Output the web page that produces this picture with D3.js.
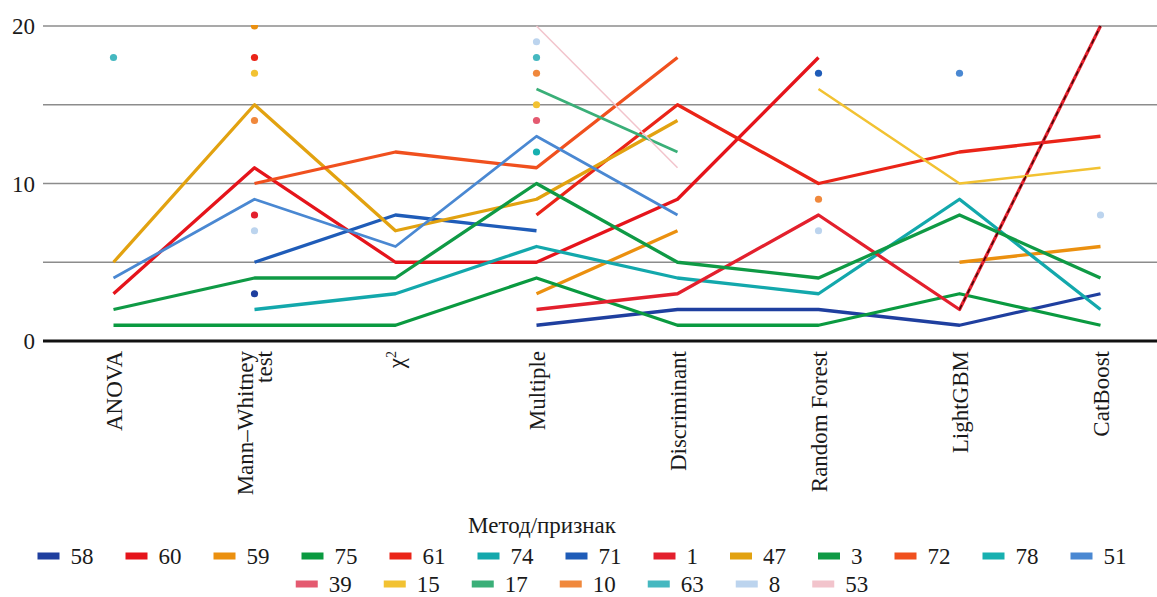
<!DOCTYPE html>
<html>
<head>
<meta charset="utf-8">
<script src="https://cdn.jsdelivr.net/npm/d3@7"></script>
<style>
  body { margin: 0; background: #fff; }
</style>
</head>
<body>
<div id="chart"></div>
<script>

      // categories on the x axis
      var categories = ["ANOVA", "Mann–Whitney test", "χ2", "Multiple", "Discriminant",
                        "Random Forest", "LightGBM", "CatBoost"];

      // series (legend order) and their colours
      var seriesNames = ["58", "60", "59", "75", "61", "74", "71", "1", "47", "3",
                         "72", "78", "51", "39", "15", "17", "10", "63", "8", "53"];
      var seriesColors = ["#1f3f9f", "#e5141b", "#eb900f", "#0a9a40", "#ea2418", "#13a8ac",
                          "#1f5cb8", "#e3202d", "#e2a210", "#0f9a45", "#f0501e", "#17b0b0",
                          "#4a88d2", "#e45a70", "#f2c232", "#3aaf78", "#f0883c", "#45b8c0",
                          "#bcd4ee", "#f2c4cc"];
      var seriesWidths = [3.3, 3.3, 3.3, 3.3, 3.3, 3.3, 3.3, 3.3, 3.3, 3.3,
                          3.3, 3.3, 2.8, 2.5, 2.5, 2.8, 2.5, 2.5, 2.5, 1.5];

      // values per series, one per category (null = no value)
      var seriesValues = [
        [null, 3, null, 1, 2, 2, 1, 3],          // 58
        [3, 11, 5, 5, 9, 18, null, null],        // 60
        [null, 20, null, 3, 7, null, 5, 6],      // 59
        [1, 1, 1, 4, 1, 1, 3, 1],                // 75
        [null, 18, null, 8, 15, 10, 12, 13],     // 61
        [null, 2, 3, 6, 4, 3, 9, 2],             // 74
        [null, 5, 8, 7, null, 17, null, null],   // 71
        [null, 8, null, 2, 3, 8, 2, 20],         // 1
        [5, 15, 7, 9, 14, null, null, null],     // 47
        [2, 4, 4, 10, 5, 4, 8, 4],               // 3
        [null, 10, 12, 11, 18, null, null, null],// 72
        [null, null, null, 12, null, null, null, null], // 78
        [4, 9, 6, 13, 8, null, 17, null],        // 51
        [null, null, null, 14, null, null, null, null], // 39
        [null, 17, null, 15, null, 16, 10, 11],  // 15
        [null, null, null, 16, 12, null, null, null],   // 17
        [null, 14, null, 17, null, 9, null, null],      // 10
        [18, null, null, 18, null, null, null, null],   // 63
        [null, 7, null, 19, null, 7, null, 8],   // 8
        [null, null, null, 20, 11, null, null, null]    // 53
      ];

      var yTicks = [0, 10, 20];
      var yGrid = [5, 10, 15, 20];
      var legendTitle = "Метод/признак";

      var W = 1157, H = 597;
      var serif = '"Liberation Serif", Tinos, "Times New Roman", "DejaVu Serif", serif';

      var svg = d3.select("#chart").append("svg")
                .attr("width", W)
                .attr("height", H)
                .attr("font-family", serif)
                .style("font-family", serif);

      ////// Scales /////////////////
      var xScale = d3.scaleBand()
          .domain(categories)
          .range([43, 1171])
          .padding(0);
      var bw = xScale.bandwidth();
      var yScale = d3.scaleLinear()
          .domain([0, 20])
          .range([341, 26]);

      // plot area clip (marks at 20 are cut at the top border)
      svg.append("clipPath")
        .attr("id", "plotClip")
        .append("rect")
        .attr("x", 43).attr("y", yScale(20) - 1)
        .attr("width", W - 43).attr("height", yScale(0) - yScale(20) + 10);

      // grid
      svg.append("g")
        .selectAll("line")
        .data(yGrid)
        .enter()
        .append("line")
        .attr("x1", 43).attr("x2", W)
        .attr("y1", function(d) { return yScale(d); })
        .attr("y2", function(d) { return yScale(d); })
        .attr("stroke", "#8c8c8c")
        .attr("stroke-width", 1.6);

      // y labels
      svg.append("g")
        .selectAll("text")
        .data(yTicks)
        .enter()
        .append("text")
        .attr("x", 35)
        .attr("y", function(d) { return yScale(d); })
        .attr("dy", "0.35em")
        .attr("text-anchor", "end")
        .attr("fill", "#1a1a1a")
        .style("font-size", "23px")
        .text(function(d) { return d; });

      // lines
      var line = d3.line()
          .defined(function(d) { return d != null; })
          .x(function(d, i) { return xScale(categories[i]) + bw / 2; })
          .y(function(d) { return yScale(d); });

      var lines = svg.append("g").attr("clip-path", "url(#plotClip)");
      seriesValues.forEach(function(vals, k) {
        lines.append("path")
          .datum(vals)
          .attr("fill", "none")
          .attr("stroke", seriesColors[k])
          .attr("stroke-width", seriesWidths[k])
          .attr("stroke-linejoin", "round")
          .attr("d", line);
      });

      // dark dashed trace on the last rise of series "1"
      var k1 = seriesNames.indexOf("1");
      lines.append("path")
        .datum(seriesValues[k1].map(function(v, i) { return i >= 6 ? v : null; }))
        .attr("fill", "none")
        .attr("stroke", "#3a0808")
        .attr("stroke-width", 1.4)
        .attr("stroke-dasharray", "5,4")
        .attr("d", line);

      // isolated points
      var dots = svg.append("g").attr("clip-path", "url(#plotClip)");
      seriesValues.forEach(function(vals, k) {
        var pts = [];
        vals.forEach(function(v, i) {
          if (v == null) return;
          var prev = i > 0 ? vals[i - 1] : null;
          var next = i < vals.length - 1 ? vals[i + 1] : null;
          if (prev == null && next == null) pts.push({i: i, v: v});
        });
        dots.selectAll(null)
          .data(pts)
          .enter()
          .append("circle")
          .attr("cx", function(d) { return xScale(categories[d.i]) + bw / 2; })
          .attr("cy", function(d) { return yScale(d.v); })
          .attr("r", 3.6)
          .attr("fill", seriesColors[k]);
      });

      // zero axis line
      svg.append("line")
        .attr("x1", 43).attr("x2", W)
        .attr("y1", yScale(0)).attr("y2", yScale(0))
        .attr("stroke", "#111")
        .attr("stroke-width", 3);

      // x labels, rotated
      var xl = svg.append("g")
        .attr("fill", "#1a1a1a")
        .selectAll("g")
        .data(categories)
        .enter()
        .append("g")
        .attr("transform", function(d) {
          return "translate(" + (xScale(d) + bw / 2) + ",351) rotate(-90)";
        });

      xl.each(function(d) {
        var g = d3.select(this);
        if (d == "Mann–Whitney test") {
          g.append("text").attr("text-anchor", "end").attr("y", -9.5).attr("dy", "0.35em")
            .style("font-size", "23px").text("Mann–Whitney");
          g.append("text").attr("text-anchor", "end").attr("y", 9.5).attr("dy", "0.35em")
            .style("font-size", "23px").text("test");
        } else if (d == "χ2") {
          var t = g.append("text").attr("text-anchor", "end").attr("dy", "0.35em")
            .style("font-size", "23px");
          t.append("tspan").text("χ");
          t.append("tspan").attr("dy", "-0.55em").style("font-size", "14px").text("2");
        } else {
          g.append("text").attr("text-anchor", "end").attr("dy", "0.35em")
            .style("font-size", "23px").text(d);
        }
      });

      // legend
      svg.append("text")
        .attr("x", 542)
        .attr("y", 525)
        .attr("dy", "0.35em")
        .attr("text-anchor", "middle")
        .attr("fill", "#1a1a1a")
        .style("font-size", "23px")
        .text(legendTitle);

      var rows = [seriesNames.slice(0, 13), seriesNames.slice(13)];
      var rowY = [556, 584];
      var legendCenter = 582;

      rows.forEach(function(names, r) {
        var row = svg.append("g");
        var items = [];
        names.forEach(function(n) {
          var k = seriesNames.indexOf(n);
          var item = row.append("g");
          item.append("rect")
            .attr("x", 0).attr("y", rowY[r] - 3.5)
            .attr("width", 22).attr("height", 7)
            .attr("fill", seriesColors[k]);
          var t = item.append("text")
            .attr("x", 33).attr("y", rowY[r])
            .attr("dy", "0.35em")
            .attr("fill", "#1a1a1a")
            .style("font-size", "23px")
            .text(n);
          items.push({g: item, w: 33 + t.node().getComputedTextLength()});
        });
        var total = d3.sum(items, function(d) { return d.w; }) + 32 * (items.length - 1);
        var xPos = legendCenter - total / 2;
        items.forEach(function(d) {
          d.g.attr("transform", "translate(" + xPos + ",0)");
          xPos += d.w + 32;
        });
      });

</script>
</body>
</html>
